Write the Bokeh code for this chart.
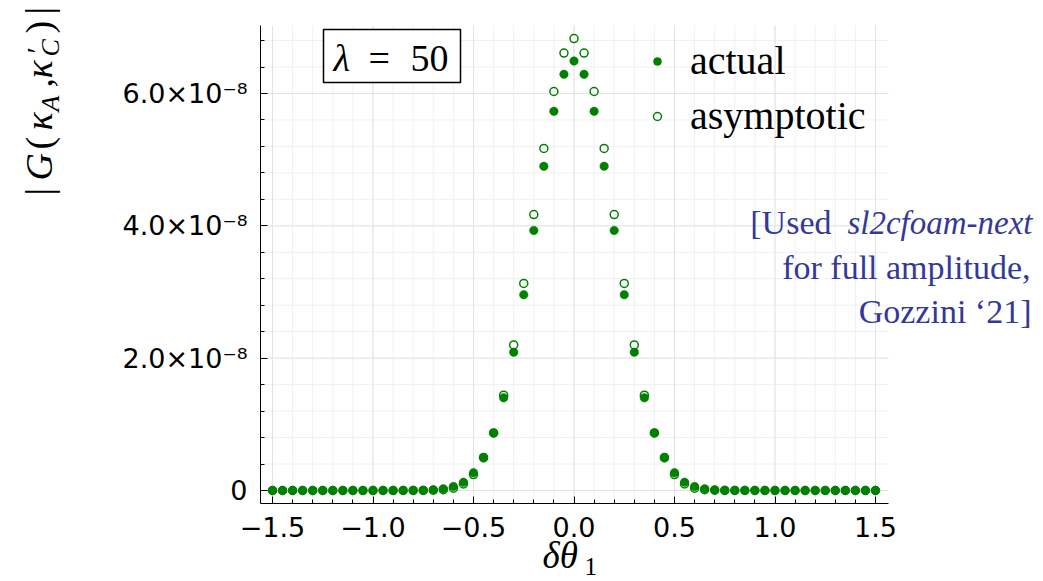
import math
from bokeh.plotting import figure
from bokeh.models import (Label, BoxAnnotation, Legend, LegendItem, FixedTicker,
                          CustomJSTickFormatter, Range1d, ColumnDataSource, LinearAxis)
from bokeh.embed import file_html
from bokeh.resources import INLINE

# ---------------- data ----------------
delta_theta = [-1.50, -1.45, -1.40, -1.35, -1.30, -1.25, -1.20, -1.15, -1.10, -1.05,
               -1.00, -0.95, -0.90, -0.85, -0.80, -0.75, -0.70, -0.65, -0.60, -0.55,
               -0.50, -0.45, -0.40, -0.35, -0.30, -0.25, -0.20, -0.15, -0.10, -0.05,
               0.00,
               0.05, 0.10, 0.15, 0.20, 0.25, 0.30, 0.35, 0.40, 0.45, 0.50,
               0.55, 0.60, 0.65, 0.70, 0.75, 0.80, 0.85, 0.90, 0.95, 1.00,
               1.05, 1.10, 1.15, 1.20, 1.25, 1.30, 1.35, 1.40, 1.45, 1.50]

# values in units of 1e-8
actual_e8 = [0, 0, 0, 0, 0, 0, 0, 0, 0, 0,
             0.001, 0.001, 0.001, 0.002, 0.003, 0.005, 0.010, 0.025, 0.060, 0.125,
             0.27, 0.49, 0.87, 1.40, 2.09, 2.96, 3.93, 4.90, 5.73, 6.29,
             6.49,
             6.29, 5.73, 4.90, 3.93, 2.96, 2.09, 1.40, 0.87, 0.49, 0.27,
             0.125, 0.060, 0.025, 0.010, 0.005, 0.003, 0.002, 0.001, 0.001, 0.001,
             0, 0, 0, 0, 0, 0, 0, 0, 0, 0]

asymptotic_e8 = [0, 0, 0, 0, 0, 0, 0, 0, 0, 0,
                 0, 0, 0, 0, 0, 0.001, 0.004, 0.012, 0.035, 0.10,
                 0.24, 0.50, 0.87, 1.44, 2.20, 3.13, 4.17, 5.17, 6.03, 6.61,
                 6.83,
                 6.61, 6.03, 5.17, 4.17, 3.13, 2.20, 1.44, 0.87, 0.50, 0.24,
                 0.10, 0.035, 0.012, 0.004, 0.001, 0, 0, 0, 0, 0,
                 0, 0, 0, 0, 0, 0, 0, 0, 0, 0]

UNIT = 1e-8
x_ticks = [-1.5, -1.0, -0.5, 0.0, 0.5, 1.0, 1.5]
x_minor_ticks = [-1.5, -1.4, -1.3, -1.2, -1.1, -1.0, -0.9, -0.8, -0.7, -0.6, -0.5,
                 -0.4, -0.3, -0.2, -0.1, 0.0, 0.1, 0.2, 0.3, 0.4, 0.5, 0.6, 0.7,
                 0.8, 0.9, 1.0, 1.1, 1.2, 1.3, 1.4, 1.5]
y_ticks_e8 = [0.0, 2.0, 4.0, 6.0]
y_minor_ticks_e8 = [0.0, 0.4, 0.8, 1.2, 1.6, 2.0, 2.4, 2.8, 3.2, 3.6, 4.0, 4.4,
                    4.8, 5.2, 5.6, 6.0, 6.4, 6.8]

# ---------------- layout constants ----------------
W, H = 1043, 581
GREEN = "#008000"
BLUE = "#34389a"
SERIF = "Liberation Serif"
SANS = "DejaVu Sans"
BASE_SHIFT = 0.32   # correction (in em) for where the alphabetic baseline lands

# pixel geometry of the plotting area (page pixels)
PX_X0, PX_PER_X = 573.5, 201.0          # x = 0 position, px per unit of x
PX_Y0, PX_PER_Y = 490.0, 66.17 / UNIT   # y = 0 position, px per unit of y
FL, FR, FT, FB = 260, 888, 25, 503      # frame of the axes area


def px2x(px):
    return (px - PX_X0) / PX_PER_X


def py2y(py):
    return (PX_Y0 - py) / PX_PER_Y


XL, XRt = px2x(FL), px2x(FR)
YB, YT = py2y(FB), py2y(FT)

p = figure(width=W, height=H,
           x_range=Range1d(px2x(0), px2x(W)), y_range=Range1d(py2y(H), py2y(0)),
           output_backend="svg", toolbar_location=None, title=None,
           x_axis_location=None, y_axis_location=None,
           min_border=0, min_border_left=0, min_border_right=0,
           min_border_top=0, min_border_bottom=0)
p.outline_line_color = None
p.background_fill_color = "white"
p.border_fill_color = "white"
p.grid.visible = False

# ---------------- grid (limited to the axes area) ----------------
y_minor = [v * UNIT for v in y_minor_ticks_e8]
y_major = [v * UNIT for v in y_ticks_e8]
p.segment(x0=x_minor_ticks, y0=[YB] * len(x_minor_ticks),
          x1=x_minor_ticks, y1=[YT] * len(x_minor_ticks),
          line_color="#f1f1f1", line_width=1)
p.segment(x0=[XL] * len(y_minor), y0=y_minor, x1=[XRt] * len(y_minor), y1=y_minor,
          line_color="#f1f1f1", line_width=1)
p.segment(x0=x_ticks, y0=[YB] * len(x_ticks), x1=x_ticks, y1=[YT] * len(x_ticks),
          line_color="#e3e3e3", line_width=1)
p.segment(x0=[XL] * len(y_major), y0=y_major, x1=[XRt] * len(y_major), y1=y_major,
          line_color="#e3e3e3", line_width=1)

# ---------------- data marks ----------------
src = ColumnDataSource(dict(
    x=delta_theta,
    actual=[v * UNIT for v in actual_e8],
    asym=[v * UNIT for v in asymptotic_e8],
))

r_asym = p.scatter("x", "asym", source=src, size=8, marker="circle",
                   fill_color="white", line_color=GREEN, line_width=1.5)
r_act = p.scatter("x", "actual", source=src, size=8.5, marker="circle",
                  fill_color=GREEN, line_color=GREEN, line_width=0.5)

# ---------------- axes ----------------
xaxis = LinearAxis(fixed_location=YB, bounds=(XL, XRt),
                   ticker=FixedTicker(ticks=x_ticks, minor_ticks=x_minor_ticks),
                   formatter=CustomJSTickFormatter(
                       code='return tick.toFixed(1).replace("-", "\u2212");'))
yaxis = LinearAxis(fixed_location=XL, bounds=(YB, YT),
                   ticker=FixedTicker(ticks=y_major, minor_ticks=y_minor),
                   formatter=CustomJSTickFormatter(
                       code='if (Math.abs(tick) < 1e-20) { return "0"; } '
                            'return (tick * 1e8).toFixed(1) + "\u00d710\u207b\u2078";'))
for ax in (xaxis, yaxis):
    ax.axis_line_color = "black"
    ax.axis_line_width = 1
    ax.major_tick_in = 7
    ax.major_tick_out = 0
    ax.minor_tick_in = 4
    ax.minor_tick_out = 0
    ax.major_tick_line_color = "black"
    ax.minor_tick_line_color = "black"
    ax.major_label_text_font = SANS
    ax.major_label_text_font_size = "27px"
    ax.major_label_text_color = "black"
xaxis.major_label_standoff = 13
yaxis.major_label_standoff = 13
p.add_layout(xaxis, "below")
p.add_layout(yaxis, "left")

# ---------------- legend ----------------
legend = Legend(items=[LegendItem(label="actual", renderers=[r_act]),
                       LegendItem(label="asymptotic", renderers=[r_asym])],
                location=(647, H - 139), border_line_color=None,
                background_fill_alpha=0, padding=0, margin=0, spacing=8,
                glyph_width=20, glyph_height=20, label_standoff=23,
                label_height=46, label_text_font=SERIF,
                label_text_font_size="40px", label_text_color="black")
p.add_layout(legend)


def htext(txt, left_or_right, baseline, size, style="normal", color="black",
          align="left"):
    """Horizontal text placed by its page-pixel anchor and baseline."""
    return Label(x=px2x(left_or_right), y=py2y(baseline - BASE_SHIFT * size),
                 text=txt, text_font=SERIF, text_font_style=style,
                 text_font_size=f"{size}px", text_color=color,
                 text_align=align, text_baseline="alphabetic")


# ---------------- lambda box ----------------
p.add_layout(BoxAnnotation(left=px2x(323), right=px2x(460), top=py2y(29),
                           bottom=py2y(82), fill_color="white", fill_alpha=1,
                           line_color="black", line_alpha=1, line_width=1.5))
for txt, style, left in [("λ", "italic", 333), ("=", "normal", 368), ("50", "normal", 410)]:
    p.add_layout(htext(txt, left, 70, 38, style=style))

# ---------------- note text ----------------
note_lines = [
    ("[Used", "normal", 34, 831, 233),
    ("sl2cfoam-next", "italic", 33, 1032, 233),
    ("for full amplitude,", "normal", 34, 1030, 278),
    ("Gozzini \u201821]", "normal", 34, 1031, 322),
]
for txt, style, size, right, base in note_lines:
    p.add_layout(htext(txt, right, base, size, style=style, color=BLUE, align="right"))

# ---------------- y label (rotated, assembled) ----------------
ylab = [
    ("|", "normal", 38, 51, 195),
    ("G", "italic", 38, 51, 180),
    ("(", "normal", 38, 51, 149),
    ("κ", "italic", 38, 51, 130),
    ("A", "italic", 26, 58, 111),
    (",", "normal", 38, 51, 87),
    ("κ", "italic", 38, 51, 78),
    ("\u2032", "normal", 30, 46, 53),
    ("C", "italic", 26, 58, 56),
    (")", "normal", 38, 51, 33),
    ("|", "normal", 38, 51, 14),
]
for txt, style, size, bx, start in ylab:
    p.add_layout(Label(x=px2x(bx - BASE_SHIFT * size), y=py2y(start), text=txt,
                       text_font=SERIF, text_font_style=style,
                       text_font_size=f"{size}px", text_color="black",
                       text_align="left", text_baseline="alphabetic",
                       angle=math.pi / 2))

# ---------------- x label ----------------
p.add_layout(htext("δθ", 542, 567, 37, style="italic"))
p.add_layout(htext("1", 584, 574, 25))

open("out.html", "w").write(file_html(p, INLINE))
